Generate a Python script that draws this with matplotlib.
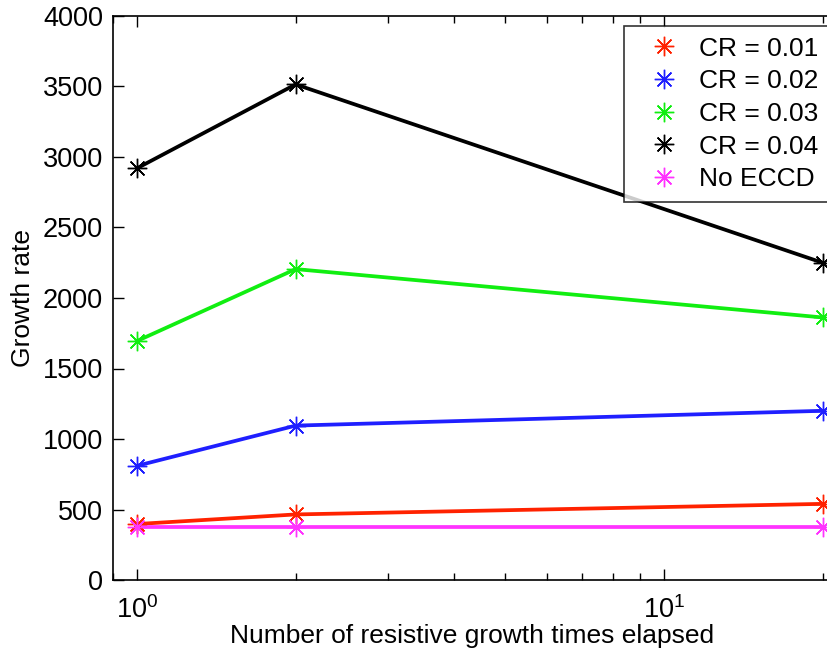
import matplotlib
matplotlib.use("Agg")
import matplotlib.pyplot as plt
from matplotlib.ticker import LogLocator, NullFormatter, FixedLocator
import numpy as np

plt.rcParams['font.family'] = ['Liberation Sans', 'DejaVu Sans']
plt.rcParams['mathtext.fontset'] = 'custom'
plt.rcParams['mathtext.rm'] = 'Liberation Sans'

elapsed = [1, 2, 20]
cr001 = [397, 465, 540]
cr002 = [810, 1095, 1200]
cr003 = [1695, 2205, 1862]
cr004 = [2920, 3515, 2250]
no_eccd = [375, 375, 375]
labels = ['CR = 0.01', 'CR = 0.02', 'CR = 0.03', 'CR = 0.04', 'No ECCD']
colors = ['#ff2200', '#1f1fff', '#11ee11', '#000000', '#ff33ff']
series = [cr001, cr002, cr003, cr004, no_eccd]
yticks = [0, 500, 1000, 1500, 2000, 2500, 3000, 3500, 4000]

W, H = 828, 652
fig = plt.figure(figsize=(W/100, H/100), dpi=100)
xmin, xmax = 0.9, 22
ppd = 527.0
left_px = 137 + np.log10(xmin)*ppd
width_px = (np.log10(xmax) - np.log10(xmin))*ppd
ax = fig.add_axes([left_px/W, (H-580)/H, width_px/W, 564/H])

for ys, c in zip(series, colors):
    ax.plot(elapsed, ys, color=c, lw=2.7)
handles = []
for ys, c, lab in zip(series, colors, labels):
    h, = ax.plot(elapsed, ys, color=c, lw=0, marker=(8, 2, 0), ms=14, mew=1.0, label=lab)
    handles.append(h)

ax.set_xscale('log')
ax.set_xlim(xmin, xmax)
ax.set_ylim(0, 4000)
ax.set_yticks(yticks)
ax.xaxis.set_major_locator(FixedLocator([1, 10]))
ax.set_xticklabels([r'$10^0$', r'$10^1$'])
ax.xaxis.set_minor_locator(LogLocator(base=10, subs=np.arange(2, 10)))
ax.xaxis.set_minor_formatter(NullFormatter())
ax.tick_params(which='both', direction='in', top=True, right=True, labelsize=19.5, width=1)
ax.tick_params(which='major', length=8)
ax.tick_params(which='minor', length=5)
ax.tick_params(axis='x', pad=12)
ax.tick_params(axis='y', pad=7)
for s in ax.spines.values():
    s.set_linewidth(1.2)
ax.set_xlabel('Number of resistive growth times elapsed', fontsize=19, va='center')
ax.xaxis.set_label_coords((472 - left_px)/width_px, (580 - 636)/564)
ax.set_ylabel('Growth rate', fontsize=19, labelpad=6)

leg = fig.legend(handles=handles, loc='upper left', bbox_to_anchor=(624/W, 1-26/H),
                 fontsize=19, frameon=True, fancybox=False, edgecolor='black',
                 borderaxespad=0, handlelength=2.2, handletextpad=0.25, labelspacing=0.33,
                 borderpad=0.4)
leg.get_frame().set_linewidth(1.2)

fig.savefig('out.png', dpi=100, facecolor='white')
